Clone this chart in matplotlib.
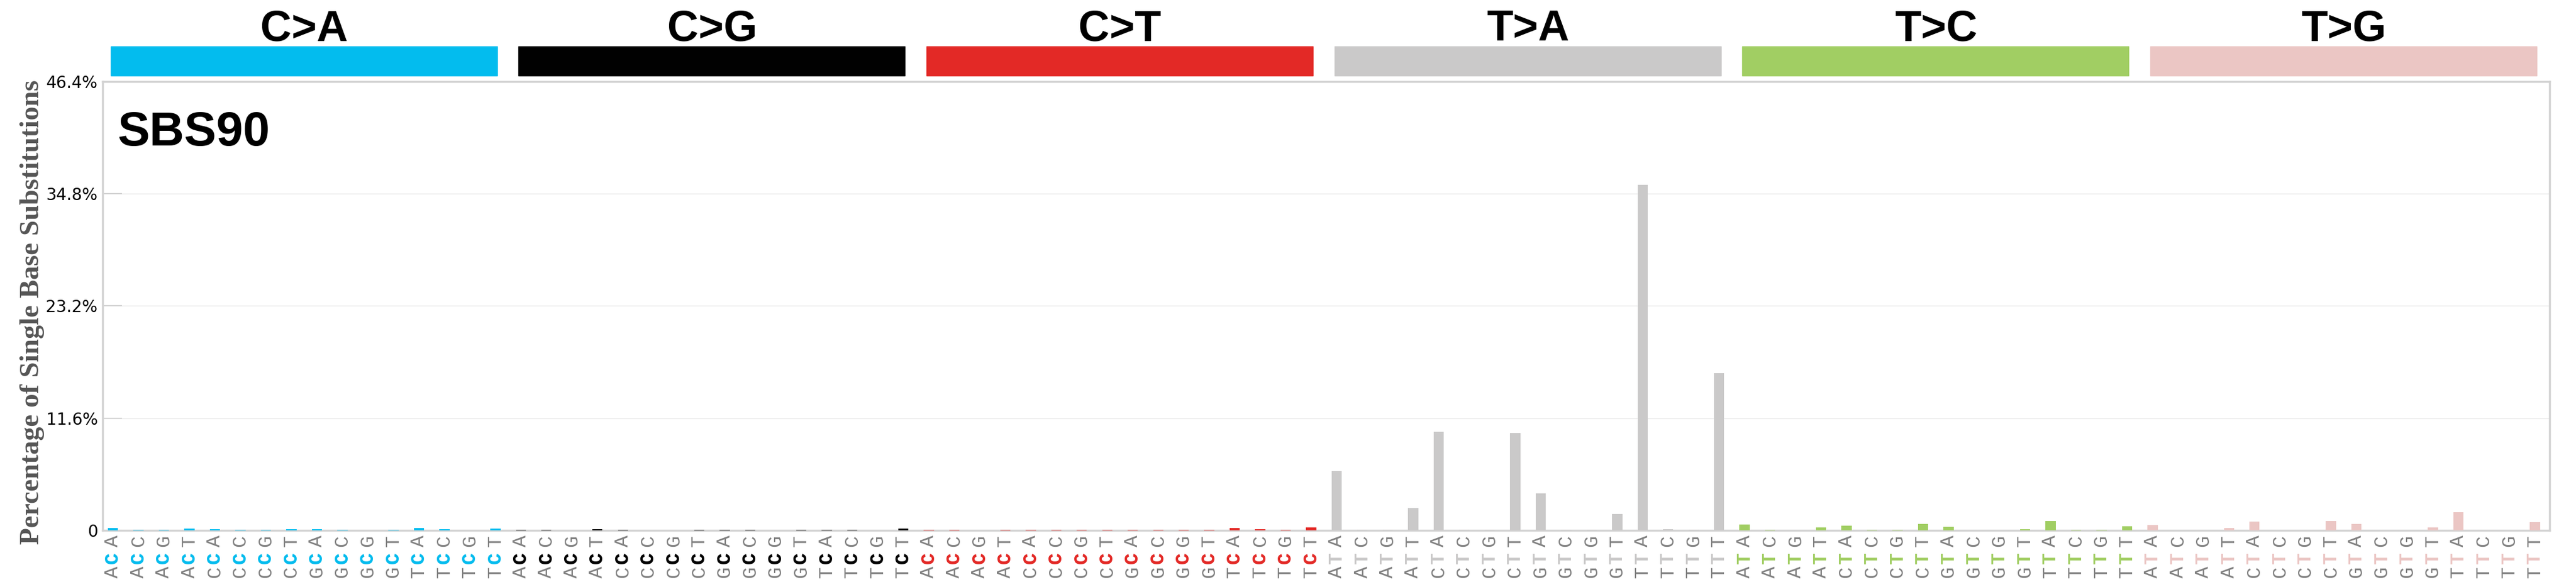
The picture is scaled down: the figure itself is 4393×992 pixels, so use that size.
import matplotlib
matplotlib.use("Agg")
import numpy as np
import matplotlib.pyplot as plt
from matplotlib.patches import Rectangle
from matplotlib.transforms import blended_transform_factory

# Firma y tipos de mutacion
sig_name = "SBS90"
mut_types = ["C>A", "C>G", "C>T", "T>A", "T>C", "T>G"]
mut_colors = ["#03BCEE", "#010101", "#E32926", "#CAC9C9", "#A1CE63", "#EBC6C4"]
flank5 = ["A", "A", "A", "A", "C", "C", "C", "C", "G", "G", "G", "G", "T", "T", "T", "T"]
flank3 = ["A", "C", "G", "T", "A", "C", "G", "T", "A", "C", "G", "T", "A", "C", "G", "T"]

# Porcentajes (16 contextos por tipo)
vals_ca = [0.24, 0.05, 0.05, 0.18, 0.12, 0.05, 0.05, 0.12, 0.12, 0.05, 0.0, 0.05, 0.24, 0.12, 0.0, 0.18]
vals_cg = [0.05, 0.05, 0.0, 0.12, 0.05, 0.0, 0.0, 0.05, 0.05, 0.05, 0.0, 0.05, 0.05, 0.05, 0.0, 0.18]
vals_ct = [0.05, 0.05, 0.0, 0.05, 0.05, 0.05, 0.05, 0.05, 0.05, 0.05, 0.05, 0.05, 0.24, 0.12, 0.05, 0.30]
vals_ta = [6.10, 0.05, 0.05, 2.33, 10.17, 0.05, 0.05, 10.05, 3.85, 0.05, 0.05, 1.68, 35.7, 0.12, 0.05, 16.25]
vals_tc = [0.60, 0.05, 0.0, 0.30, 0.50, 0.05, 0.05, 0.69, 0.34, 0.0, 0.0, 0.10, 1.00, 0.05, 0.05, 0.40]
vals_tg = [0.52, 0.0, 0.03, 0.22, 0.89, 0.0, 0.0, 0.95, 0.65, 0.0, 0.03, 0.28, 1.88, 0.03, 0.03, 0.83]

y_ticks = [0, 11.6, 23.2, 34.8, 46.4]
y_ticklabels = ["0", "11.6%", "23.2%", "34.8%", "46.4%"]

grupos = [vals_ca, vals_cg, vals_ct, vals_ta, vals_tc, vals_tg]
valores = np.concatenate(grupos)
colores = [c for c in mut_colors for _ in range(16)]
x = np.arange(len(valores))

fig = plt.figure(figsize=(43.93, 9.92), dpi=100)
ax = fig.add_axes([0.0398, 0.0887, 0.9500, 0.7712])

ax.bar(x, valores, width=0.4, color=colores, zorder=3)
ax.set_xlim(-0.41, 95.58)
ax.set_ylim(0, 46.4)

ax.set_yticks(y_ticks)
ax.set_yticklabels(y_ticklabels, fontsize=20)
ax.tick_params(axis="y", direction="in", length=24, width=1.5, color="#d3d3d3", pad=6)
ax.set_xticks([])
ax.grid(axis="y", color="#E8E8E8", linewidth=1, zorder=0)
ax.set_axisbelow(True)
for sp in ax.spines.values():
    sp.set_color("#d3d3d3")
    sp.set_linewidth(2.5)

sans = ["Liberation Sans", "DejaVu Sans"]
ax.text(0.0062, 0.857, sig_name, transform=ax.transAxes, fontsize=59,
        fontweight="bold", family=sans)

fig.text(55 / 4393, 1 - 532 / 992, "Percentage of Single Base Substitutions",
         rotation=90, ha="center", va="center", fontsize=34, fontweight="bold",
         color="#555555", family="Liberation Serif")

# Barras de cabecera y etiquetas de tipo
mezcla = blended_transform_factory(ax.transData, fig.transFigure)
for k, (mt, col) in enumerate(zip(mut_types, mut_colors)):
    ax.add_patch(Rectangle((16 * k - 0.09, 0.870), 15.16, 0.0504, transform=mezcla,
                           color=col, clip_on=False))
    ax.text(16 * k + 7.5, 0.9304, mt, transform=mezcla, ha="center", va="baseline",
            fontsize=53, fontweight="bold", family=sans)

# Etiquetas de contexto (5' - base - 3') en vertical
for i in range(len(valores)):
    k = i // 16
    j = i % 16
    ref = mut_types[k][0]
    ax.text(i, 0.0171, flank5[j], transform=mezcla, rotation=90, ha="center", va="center",
            fontsize=24, color="gray", family="Liberation Mono")
    ax.text(i, 0.0413, ref, transform=mezcla, rotation=90, ha="center", va="center",
            fontsize=24, color=mut_colors[k], fontweight="bold", family="Liberation Mono")
    ax.text(i, 0.0706, flank3[j], transform=mezcla, rotation=90, ha="center", va="center",
            fontsize=24, color="gray", family="Liberation Mono")

fig.savefig("out.png", dpi=100)
